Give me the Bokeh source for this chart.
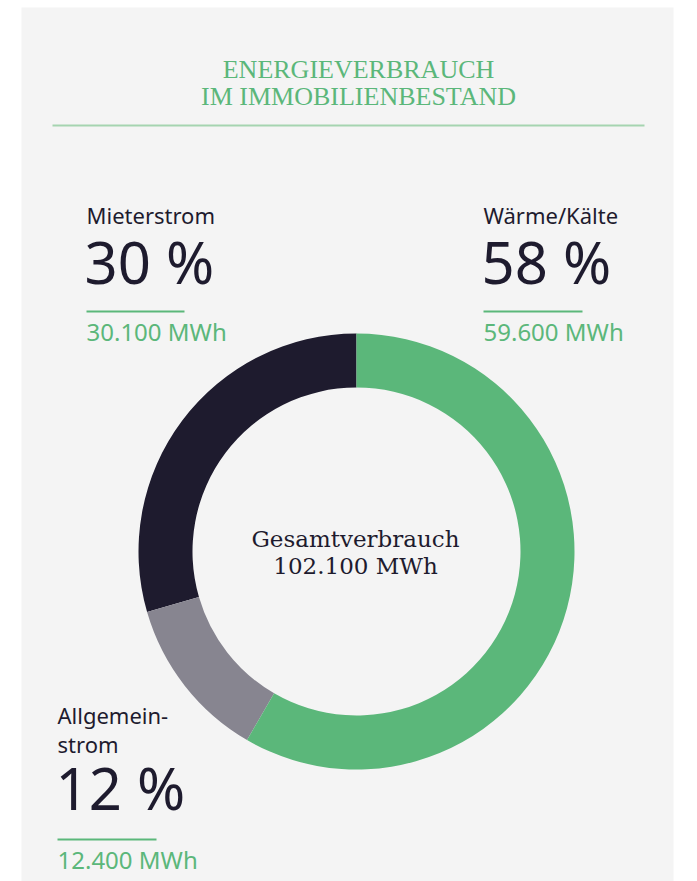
import math
from bokeh.plotting import figure
from bokeh.models import Range1d, ColumnDataSource
from bokeh.core.properties import value
from bokeh.embed import file_html
from bokeh.resources import INLINE

# ---------------- data ----------------
title_lines = ["ENERGIEVERBRAUCH", "IM IMMOBILIENBESTAND"]
categories = ["Mieterstrom", "Allgemeinstrom", "Wärme/Kälte"]
display_names = ["Mieterstrom", "Allgemein-\nstrom", "Wärme/Kälte"]
mwh_thousands = [30.1, 12.4, 59.6]          # thousand MWh
percent_labels = [30, 12, 58]               # as printed
total_label = "Gesamtverbrauch"
total_mwh = 102.1

# ---------------- style ----------------
BG = "#f4f4f4"
DARK = "#1e1b2e"
GRAY = "#878590"
GREEN = "#5bb77a"
LIGHT_GREEN = "#a5d4b0"
slice_colors = [DARK, GRAY, GREEN]

W, H = 697, 881
K = 0.39  # baseline correction factor

def Y(page_y):  # page pixel y -> data y (bottom-up)
    return H - page_y

def TY(baseline, size):
    return Y(baseline) + K * size

def fmt_mwh(v):
    return f"{v * 1000:,.0f}".replace(",", ".") + " MWh"

p = figure(width=W, height=H, output_backend="svg", toolbar_location=None,
           x_range=Range1d(0, W), y_range=Range1d(0, H), min_border=0)
p.axis.visible = False
p.grid.visible = False
p.outline_line_color = None
p.background_fill_color = "white"
p.border_fill_color = "white"

# panel
p.quad(left=21, right=673, bottom=Y(881), top=Y(7), fill_color=BG, line_color=None)

# title
sans = value("Noto Sans")
serif_title = value("Liberation Serif")
for i, t in enumerate(title_lines):
    p.text(x=[358], y=[TY(79 + i * 27, 26)], text=[t], text_font=serif_title,
           text_font_size="26px", text_color=GREEN, text_align="center",
           text_baseline="alphabetic")
p.segment(x0=[52], x1=[644], y0=[Y(125)], y1=[Y(125)], line_color=LIGHT_GREEN, line_width=2)

# donut
total = sum(mwh_thousands)
starts, ends = [], []
acc = math.pi / 2
for v in mwh_thousands:
    starts.append(acc)
    acc += v / total * 2 * math.pi
    ends.append(acc)
src = ColumnDataSource(dict(start=starts, end=ends, color=slice_colors, cat=categories))
p.annular_wedge(x=356, y=Y(551), inner_radius=164, outer_radius=218,
                start_angle="start", end_angle="end", direction="anticlock",
                fill_color="color", line_color=None, source=src)

# centre text
serif = value("DejaVu Serif")
p.text(x=[355], y=[TY(547, 23)], text=[total_label], text_font=serif, text_font_size="23px",
       text_color=DARK, text_align="center", text_baseline="alphabetic")
p.text(x=[355], y=[TY(574, 23)], text=[fmt_mwh(total_mwh)], text_font=serif, text_font_size="23px",
       text_color=DARK, text_align="center", text_baseline="alphabetic")

# label blocks (layout only)
blocks = {
    "Mieterstrom":    dict(x=86,  name_y=223, pct_y=284, line_y=311, mwh_y=340, line_w=98),
    "Allgemeinstrom": dict(x=57,  name_y=723, pct_y=810, line_y=839, mwh_y=868, line_w=99),
    "Wärme/Kälte":    dict(x=483, name_y=223, pct_y=284, line_y=311, mwh_y=340, line_w=99),
}
for cat, name, pct, v in zip(categories, display_names, percent_labels, mwh_thousands):
    b = blocks[cat]
    for j, ln in enumerate(name.split("\n")):
        p.text(x=[b["x"]], y=[TY(b["name_y"] + j * 29, 22)], text=[ln], text_font=sans,
               text_font_size="22px", text_color=DARK, text_baseline="alphabetic")
    p.text(x=[b["x"] - 2], y=[TY(b["pct_y"], 58)], text=[f"{pct} %"], text_font=sans,
           text_font_size="58px", text_color=DARK, text_baseline="alphabetic")
    p.segment(x0=[b["x"]], x1=[b["x"] + b["line_w"]], y0=[Y(b["line_y"])], y1=[Y(b["line_y"])],
              line_color=GREEN, line_width=2)
    p.text(x=[b["x"]], y=[TY(b["mwh_y"], 24)], text=[fmt_mwh(v)], text_font=sans,
           text_font_size="24px", text_color=GREEN, text_baseline="alphabetic")

open("out.html", "w").write(file_html(p, INLINE))
